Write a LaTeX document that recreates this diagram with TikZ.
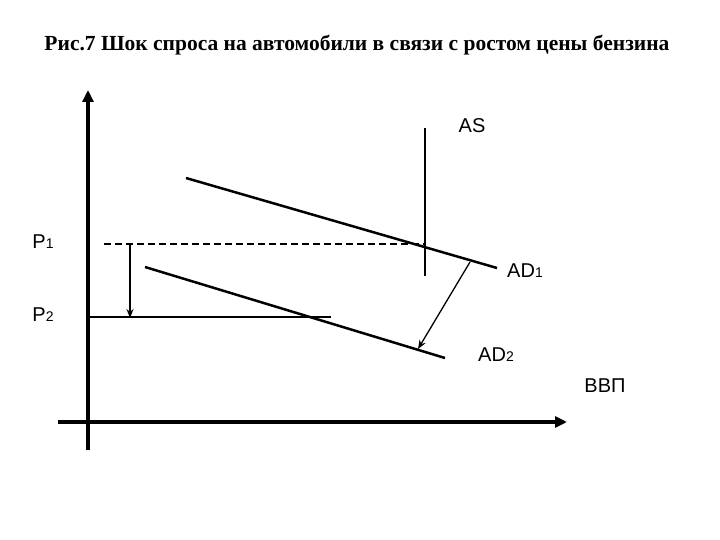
\documentclass[tikz,border=0pt]{standalone}
\usepackage{fontspec}
\setmainfont{Liberation Serif}
\newfontfamily\lsans{Liberation Sans}
\usetikzlibrary{arrows.meta}
\begin{document}
\begin{tikzpicture}[x=1pt,y=-1pt,
  axis/.style={line width=3.5pt,-{Triangle[length=12pt,width=11pt]}},
  curve/.style={line width=2.5pt},
  thin/.style={line width=1.3pt},
  lbl/.style={font=\lsans\fontsize{20}{22}\selectfont,inner sep=0pt}]
\useasboundingbox (0,0) rectangle (720,540);
\node[font=\bfseries\fontsize{21.5}{24}\selectfont] (title) at (357,45) {Рис.7 Шок спроса на автомобили в связи с ростом цены бензина};
\coordinate (y0) at (88,450); \coordinate (y1) at (88,90);
\coordinate (x0) at (58,422); \coordinate (x1) at (567,422);
\draw[axis] (y0) -- (y1);
\draw[axis] (x0) -- (x1);
\coordinate (as0) at (425,128); \coordinate (as1) at (425,276);
\draw[curve] (as0) -- (as1);
\coordinate (a1s) at (186,178); \coordinate (a1e) at (497,268);
\draw[curve] (a1s) -- (a1e);
\coordinate (a2s) at (145,267); \coordinate (a2e) at (445,358);
\draw[curve] (a2s) -- (a2e);
\coordinate (p1s) at (104,244); \coordinate (p1e) at (425,244);
\draw[thin,dash pattern=on 7pt off 4pt] (p1s) -- (p1e);
\coordinate (p2s) at (88,317); \coordinate (p2e) at (331,317);
\draw[curve,line width=2pt] (p2s) -- (p2e);
\coordinate (v0) at (130,244); \coordinate (v1) at (130,318);
\draw[thin,-{Stealth[length=9pt,width=7pt]}] (v0) -- (v1);
\coordinate (s0) at (470,262); \coordinate (s1) at (418,349);
\draw[thin,-{Stealth[length=9pt,width=7pt]}] (s0) -- (s1);
\node[lbl] (las) at (472,126) {AS};
\node[lbl] (lad1) at (525,271) {AD{\fontsize{14}{15}\selectfont 1}};
\node[lbl] (lad2) at (496,355) {AD{\fontsize{14}{15}\selectfont 2}};
\node[lbl] (lp1) at (43,242) {P{\fontsize{14}{15}\selectfont 1}};
\node[lbl] (lp2) at (43,315) {P{\fontsize{14}{15}\selectfont 2}};
\node[lbl] (lgdp) at (605,386) {ВВП};
\end{tikzpicture}
\end{document}
